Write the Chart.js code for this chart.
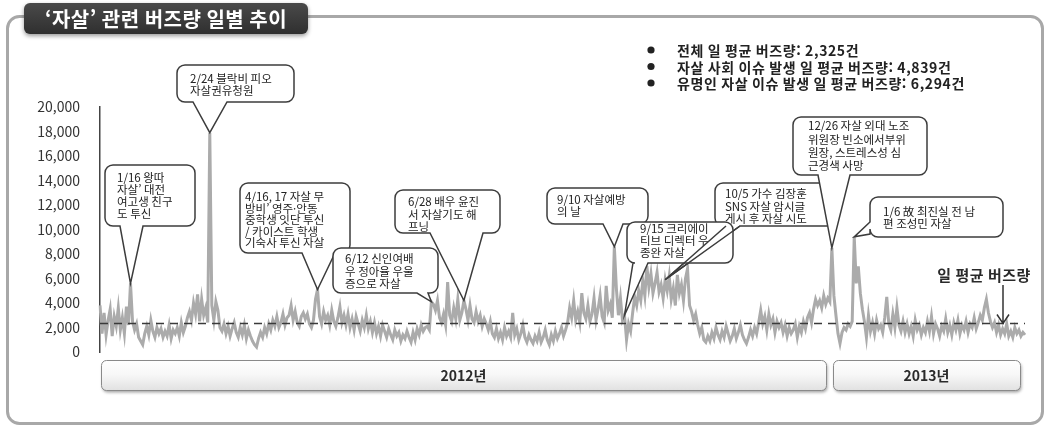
<!DOCTYPE html>
<html lang="ko">
<head>
<meta charset="utf-8">
<title>'자살' 관련 버즈량 일별 추이</title>
<script src="https://cdn.jsdelivr.net/npm/chart.js@4.4.1/dist/chart.umd.min.js"></script>
<style>
  html, body { margin: 0; padding: 0; background: #fff; }
  #wrap { width: 1049px; height: 427px; position: relative; }
</style>
</head>
<body>
<div id="wrap"><canvas id="buzz" width="1049" height="427"></canvas></div>
<script>
// Daily buzz volume for "자살", one array per month
const jan2012 = [3800, 1500, 3200, 1400, 2600, 3500, 1300, 2900, 2100, 3600, 1800, 2800, 1500, 3700, 2200, 5600, 2500, 1800, 2300, 1200, 900, 600, 1500, 2100, 1400, 2600, 1700, 1200, 2000, 1500, 1900];
const feb2012 = [1200, 1700, 1300, 2200, 1100, 1800, 1500, 2000, 1300, 2400, 1600, 2100, 2800, 3300, 2600, 4000, 3100, 4700, 2500, 4300, 3000, 3600, 2400, 17900, 3800, 2600, 4100, 3400, 2000];
const mar2012 = [1700, 2300, 1500, 2100, 1300, 1900, 2400, 1600, 1200, 2000, 1400, 2200, 1100, 1800, 1300, 900, 600, 400, 1100, 1600, 1200, 2000, 1500, 2300, 1800, 2600, 2100, 2900, 2000, 2400, 3100];
const apr2012 = [2200, 2800, 3000, 3800, 2600, 3300, 2400, 2100, 2900, 3200, 2700, 3100, 2300, 2000, 2600, 4300, 5100, 2900, 2300, 3300, 2600, 3000, 2200, 3400, 2500, 2100, 2800, 3700, 2400, 3000];
const may2012 = [2200, 3100, 2000, 2700, 1800, 2900, 2300, 1700, 2600, 2000, 3000, 1900, 2500, 1600, 2400, 1500, 2100, 1300, 2200, 1700, 1200, 1900, 1400, 1000, 1800, 1300, 1600, 900, 1400, 1100, 1700];
const jun2012 = [1200, 800, 1600, 1000, 1900, 1400, 2200, 1700, 2000, 2100, 1800, 4100, 3900, 3400, 4200, 2800, 2400, 3100, 2200, 5700, 3000, 2500, 3600, 2700, 4300, 2600, 3200, 4200, 3500, 2600];
const jul2012 = [3800, 2700, 2400, 3300, 2500, 3000, 2100, 2700, 2300, 1800, 2500, 1500, 1200, 1900, 1100, 1600, 1000, 2000, 1300, 1700, 1200, 3200, 1400, 1900, 1000, 1500, 2200, 1200, 800, 1400, 1000];
const aug2012 = [700, 1300, 900, 1600, 800, 1200, 1800, 1000, 600, 1400, 900, 1700, 1100, 1500, 2000, 1300, 1800, 2400, 3600, 2800, 4200, 2600, 3300, 2400, 4800, 3200, 2700, 3800, 2500, 3100, 4400];
const sep2012 = [2600, 3500, 4600, 2900, 2400, 5400, 3400, 3900, 2800, 8600, 5200, 3000, 4400, 2600, 3000, 1000, 2300, 1700, 3200, 4500, 3800, 5000, 4200, 5800, 4600, 7000, 5300, 6400, 4800, 5600];
const oct2012 = [6500, 4900, 5500, 4400, 5900, 5000, 6200, 4300, 5200, 3800, 6300, 4800, 5500, 4200, 6000, 6800, 3800, 3300, 2600, 3100, 2200, 1500, 2000, 1000, 800, 1300, 900, 1600, 1100, 2000, 1400];
const nov2012 = [1000, 1700, 1200, 2100, 1500, 900, 1300, 1900, 1100, 1600, 2200, 1400, 1000, 700, 1200, 1800, 1300, 2000, 1500, 2400, 3400, 2300, 2900, 1800, 3100, 2200, 2700, 1600, 2500, 2000];
const dec2012 = [2400, 1600, 2200, 1300, 2000, 1500, 1800, 2300, 1200, 2100, 1600, 2500, 1900, 2800, 3200, 2400, 3500, 4300, 3800, 4200, 3600, 4600, 3900, 4400, 4100, 8500, 4600, 3000, 1500, 700, 1600];
const jan2013 = [2000, 1800, 2300, 2100, 2500, 9400, 5600, 7000, 4800, 3500, 2500, 1200, 3000, 1700, 2400, 1500, 2600, 1900, 2200, 1600, 2800, 4500, 2300, 1800, 3100, 2000, 3600, 2200, 1700, 2500, 1600];
const feb2013 = [2300, 1500, 2100, 1300, 2600, 1800, 2200, 1400, 2000, 1600, 2500, 1700, 2900, 1500, 2300, 1900, 1300, 2100, 1700, 2700, 1600, 2200, 1400, 2400, 1800, 2600, 1500, 2200];
const mar2013 = [1800, 2500, 1600, 2300, 2000, 2800, 1900, 2400, 3000, 2600, 3600, 4300, 3200, 2500, 2000, 2400, 1600, 2200, 1400, 1900, 1500, 2300, 1300, 1700, 1200, 2000, 1500, 1800, 1300, 1600, 1400];

// Month keys matched with their arrays
const monthKeys = ['2012-01', '2012-02', '2012-03', '2012-04', '2012-05', '2012-06', '2012-07', '2012-08', '2012-09', '2012-10', '2012-11', '2012-12', '2013-01', '2013-02', '2013-03'];
const monthValues = [jan2012, feb2012, mar2012, apr2012, may2012, jun2012, jul2012, aug2012, sep2012, oct2012, nov2012, dec2012, jan2013, feb2013, mar2013];

// Y axis ticks
const yTicks = [0, 2000, 4000, 6000, 8000, 10000, 12000, 14000, 16000, 18000, 20000];

// Averages shown in the summary list
const avgDaily = 2325;
const summaryLabels = ['전체 일 평균 버즈량', '자살 사회 이슈 발생 일 평균 버즈량', '유명인 자살 이슈 발생 일 평균 버즈량'];
const summaryValues = [avgDaily, 4839, 6294];

// Year bands under the plot
const yearLabels = ['2012년', '2013년'];

// Annotated events: date of the mark and callout text
const eventDates = ['2012-01-16', '2012-02-24', '2012-04-17', '2012-06-12', '2012-06-28', '2012-09-10', '2012-10-05', '2012-09-15', '2012-12-26', '2013-01-06'];
const eventTexts = [
  ['1/16 왕따', '자살’ 대전', '여고생 친구', '도 투신'],
  ['2/24 블락비 피오', '자살권유청원'],
  ['4/16, 17 자살 무', '방비’ 영주·안동', '중학생 잇단 투신', '/ 카이스트 학생', '기숙사 투신 자살'],
  ['6/12 신인여배', '우 정아율 우울', '증으로 자살'],
  ['6/28 배우 윤진', '서 자살기도 해', '프닝'],
  ['9/10 자살예방', '의 날'],
  ['10/5 가수 김장훈', 'SNS 자살 암시글', '게시 후 자살 시도'],
  ['9/15 크리에이', '티브 디렉터 우', '종완 자살'],
  ['12/26 자살 외대 노조', '위원장 빈소에서부위', '원장, 스트레스성 심', '근경색 사망'],
  ['1/6 故 최진실 전 남', '편 조성민 자살']
];

// Flatten months into daily labels and values
const dayLabels = [];
const buzz = [];
monthKeys.forEach((key, m) => {
  monthValues[m].forEach((v, d) => {
    dayLabels.push(key + '-' + String(d + 1).padStart(2, '0'));
    buzz.push(v);
  });
});

const FONT = '"Noto Sans CJK KR", "Noto Sans", sans-serif';

// Callout box geometry (pixels): box, text origin, tail base on an edge
const calloutLayout = [
  { x: 105, y: 165, w: 90, h: 61, tx: 117, ty: 178, lh: 12, tail: 'bottom', a: 120, b: 143 },
  { x: 177, y: 65, w: 117, h: 37, tx: 190, ty: 79, lh: 11.5, tail: 'bottom', a: 193, b: 227 },
  { x: 240, y: 183, w: 110, h: 70, tx: 245, ty: 197, lh: 11.5, tail: 'bottom', a: 302, b: 335 },
  { x: 333, y: 248, w: 105, h: 45, tx: 345, ty: 259, lh: 12.5, tail: 'bottom', a: 417, b: 428 },
  { x: 395, y: 190, w: 105, h: 43, tx: 408, ty: 202, lh: 12.5, tail: 'bottom', a: 430, b: 483 },
  { x: 547, y: 188, w: 101, h: 36, tx: 557, ty: 200, lh: 12, tail: 'bottom', a: 603, b: 623 },
  { x: 715, y: 183, w: 120, h: 43, tx: 725, ty: 194, lh: 12.5, tail: 'bottom', a: 726, b: 740, restroke: true },
  { x: 627, y: 222, w: 106, h: 41, tx: 640, ty: 229, lh: 12, tail: 'bottom', a: 633, b: 648 },
  { x: 793, y: 117, w: 134, h: 58, tx: 808, ty: 126, lh: 13.3, tail: 'bottom', a: 818, b: 850 },
  { x: 870, y: 197, w: 133, h: 40, tx: 883, ty: 212, lh: 11.5, tail: 'left', a: 222, b: 234 }
];

const yearBands = [
  { x: 101, y: 360, w: 725, h: 30 },
  { x: 833, y: 360, w: 187, h: 30 }
];

function roundRectPath(ctx, x, y, w, h, r) {
  ctx.beginPath();
  ctx.moveTo(x + r, y);
  ctx.lineTo(x + w - r, y);
  ctx.arcTo(x + w, y, x + w, y + r, r);
  ctx.lineTo(x + w, y + h - r);
  ctx.arcTo(x + w, y + h, x + w - r, y + h, r);
  ctx.lineTo(x + r, y + h);
  ctx.arcTo(x, y + h, x, y + h - r, r);
  ctx.lineTo(x, y + r);
  ctx.arcTo(x, y, x + r, y, r);
  ctx.closePath();
}

function calloutPath(ctx, L, tip) {
  const r = 8, x = L.x, y = L.y, w = L.w, h = L.h;
  ctx.beginPath();
  ctx.moveTo(x + r, y);
  ctx.lineTo(x + w - r, y);
  ctx.arcTo(x + w, y, x + w, y + r, r);
  ctx.lineTo(x + w, y + h - r);
  ctx.arcTo(x + w, y + h, x + w - r, y + h, r);
  if (L.tail === 'bottom') {
    ctx.lineTo(L.b, y + h);
    ctx.lineTo(tip.x, tip.y);
    ctx.lineTo(L.a, y + h);
  }
  ctx.lineTo(x + r, y + h);
  ctx.arcTo(x, y + h, x, y + h - r, r);
  if (L.tail === 'left') {
    ctx.lineTo(x, L.b);
    ctx.lineTo(tip.x, tip.y);
    ctx.lineTo(x, L.a);
  }
  ctx.lineTo(x, y + r);
  ctx.arcTo(x, y, x + r, y, r);
  ctx.closePath();
}

const decor = {
  id: 'decor',
  beforeDraw(chart) {
    const ctx = chart.ctx;
    ctx.save();
    ctx.fillStyle = '#ffffff';
    ctx.fillRect(0, 0, chart.width, chart.height);

    // outer frame
    ctx.strokeStyle = '#a8a8a8';
    ctx.lineWidth = 3;
    roundRectPath(ctx, 7.5, 16.5, 1035, 407, 12);
    ctx.stroke();

    // year bands
    yearBands.forEach((b, i) => {
      ctx.save();
      ctx.shadowColor = 'rgba(0,0,0,0.35)';
      ctx.shadowBlur = 3;
      ctx.shadowOffsetX = 1;
      ctx.shadowOffsetY = 2;
      const g = ctx.createLinearGradient(0, b.y, 0, b.y + b.h);
      g.addColorStop(0, '#ffffff');
      g.addColorStop(0.5, '#f7f7f7');
      g.addColorStop(1, '#e2e2e2');
      ctx.fillStyle = g;
      roundRectPath(ctx, b.x + 0.5, b.y + 0.5, b.w, b.h, 5);
      ctx.fill();
      ctx.restore();
      ctx.strokeStyle = '#8a8a8a';
      ctx.lineWidth = 1;
      roundRectPath(ctx, b.x + 0.5, b.y + 0.5, b.w, b.h, 5);
      ctx.stroke();
      ctx.fillStyle = '#2a2a2a';
      ctx.font = 'bold 14px ' + FONT;
      ctx.textAlign = 'center';
      ctx.textBaseline = 'middle';
      ctx.fillText(yearLabels[i], b.x + b.w / 2, b.y + b.h / 2 + 1);
    });

    // title tab
    ctx.save();
    ctx.shadowColor = 'rgba(0,0,0,0.4)';
    ctx.shadowBlur = 4;
    ctx.shadowOffsetY = 2;
    const tg = ctx.createLinearGradient(0, 3, 0, 34);
    tg.addColorStop(0, '#4a4a4a');
    tg.addColorStop(1, '#2f2f2f');
    ctx.fillStyle = tg;
    roundRectPath(ctx, 24, 3, 284, 31, 6);
    ctx.fill();
    ctx.restore();
    ctx.fillStyle = '#ffffff';
    ctx.font = 'bold 20px ' + FONT;
    ctx.textAlign = 'center';
    ctx.textBaseline = 'middle';
    ctx.letterSpacing = '0.5px';
    ctx.fillText('‘자살’ 관련 버즈량 일별 추이', 166, 19);

    // summary list
    ctx.font = 'bold 14px ' + FONT;
    ctx.letterSpacing = '0.6px';
    ctx.textAlign = 'left';
    ctx.fillStyle = '#222';
    summaryLabels.forEach((s, i) => {
      const yy = 50 + i * 16.5;
      ctx.beginPath();
      ctx.arc(651, yy, 3.6, 0, Math.PI * 2);
      ctx.fill();
      ctx.fillText(s + ': ' + summaryValues[i].toLocaleString('en-US') + '건', 677, yy + 1);
    });
    ctx.letterSpacing = '0px';
    ctx.restore();
  },
  afterDatasetsDraw(chart) {
    const ctx = chart.ctx;
    const xs = chart.scales.x, ys = chart.scales.y, area = chart.chartArea;
    ctx.save();

    // average line
    const ay = ys.getPixelForValue(avgDaily);
    ctx.strokeStyle = '#3a3a3a';
    ctx.lineWidth = 1.5;
    ctx.setLineDash([8, 6]);
    ctx.beginPath();
    ctx.moveTo(area.left, ay);
    ctx.lineTo(area.right, ay);
    ctx.stroke();
    ctx.setLineDash([]);

    // "일 평균 버즈량" pointer
    const ax = 1003;
    ctx.fillStyle = '#2a2a2a';
    ctx.font = 'bold 15px ' + FONT;
    ctx.letterSpacing = '0.5px';
    ctx.textAlign = 'center';
    ctx.textBaseline = 'middle';
    ctx.fillText('일 평균 버즈량', 984, 275);
    ctx.letterSpacing = '0px';
    ctx.strokeStyle = '#333';
    ctx.lineWidth = 1.5;
    ctx.beginPath();
    ctx.moveTo(ax, 285);
    ctx.lineTo(ax, ay);
    ctx.moveTo(ax - 6, ay - 9);
    ctx.lineTo(ax, ay);
    ctx.lineTo(ax + 6, ay - 9);
    ctx.stroke();

    // event callouts
    const tips = eventDates.map(d => {
      const i = dayLabels.indexOf(d);
      return { x: xs.getPixelForValue(i), y: ys.getPixelForValue(buzz[i]) };
    });
    calloutLayout.forEach((L, k) => {
      ctx.fillStyle = '#ffffff';
      ctx.strokeStyle = '#3c3c3c';
      ctx.lineWidth = 1.5;
      calloutPath(ctx, L, tips[k]);
      ctx.fill();
      ctx.stroke();
      ctx.fillStyle = '#222';
      ctx.font = '11.5px ' + FONT;
      ctx.textAlign = 'left';
      ctx.textBaseline = 'middle';
      eventTexts[k].forEach((t, j) => ctx.fillText(t, L.tx, L.ty + j * L.lh));
    });
    // tail lines that run across neighbouring boxes
    calloutLayout.forEach((L, k) => {
      if (!L.restroke) return;
      ctx.strokeStyle = '#3c3c3c';
      ctx.lineWidth = 1.5;
      ctx.beginPath();
      ctx.moveTo(L.a, L.y + L.h);
      ctx.lineTo(tips[k].x, tips[k].y);
      ctx.lineTo(L.b, L.y + L.h);
      ctx.stroke();
    });
    ctx.restore();
  }
};

new Chart(document.getElementById('buzz'), {
  type: 'line',
  data: {
    labels: dayLabels,
    datasets: [{
      label: '버즈량',
      data: buzz,
      borderColor: '#ababab',
      borderWidth: 3,
      pointRadius: 0,
      tension: 0,
      fill: false
    }]
  },
  options: {
    responsive: false,
    animation: false,
    layout: { padding: { left: 0, top: 107, right: 24, bottom: 75 } },
    plugins: { legend: { display: false }, tooltip: { enabled: false } },
    scales: {
      x: { display: false },
      y: {
        min: 0,
        max: 20000,
        afterBuildTicks: s => { s.ticks = yTicks.map(v => ({ value: v })); },
        afterFit: s => { s.width = 100; },
        grid: { display: false, drawTicks: false },
        border: { display: true, color: '#444', width: 1.5 },
        ticks: {
          color: '#333',
          padding: 20,
          font: { size: 14, family: FONT },
          callback: v => v.toLocaleString('en-US')
        }
      }
    }
  },
  plugins: [decor]
});
</script>
</body>
</html>
